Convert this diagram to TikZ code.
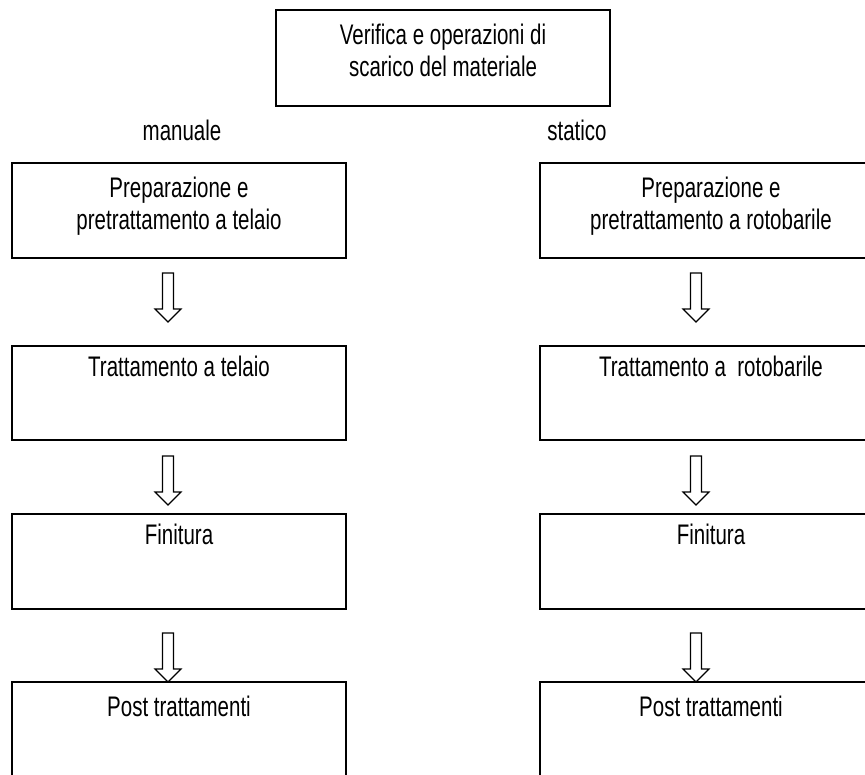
\documentclass[tikz,border=0pt]{standalone}
\usepackage{fontspec}
\setmainfont{Liberation Sans}
\newcommand{\vtxt}[1]{\scalebox{1}[1.38]{\begin{tabular}{@{}c@{}}#1\end{tabular}}}
\begin{document}
\begin{tikzpicture}[x=1pt,y=-1pt,
  box/.style={draw=black,line width=1.4pt,minimum width=334pt,inner sep=0pt,outer sep=0pt},
  txt/.style={font=\fontsize{20.5}{23.5}\selectfont,align=center,inner sep=0pt},
  lbl/.style={font=\fontsize{20.5}{23.5}\selectfont,inner sep=0pt},
  blockarrow/.pic={\draw[line width=1.1pt,line join=miter] (-5.5,0) -- (-5.5,36) -- (-13,36) -- (0,49) -- (13,36) -- (5.5,36) -- (5.5,0) -- cycle;}
]
\useasboundingbox (0,0) rectangle (865,775);
% top
\node[box,minimum height=96pt] (top) at (443,58) {};
\node[txt] (toptxt) at (443,54) {\vtxt{Verifica e operazioni di\\scarico del materiale}};
% labels
\node[txt] (man) at (182,134) {\vtxt{manuale}};
\node[txt] (sta) at (577,134) {\vtxt{statico}};
% left column
\node[box,minimum height=95pt] (l1) at (179,210.5) {};
\node[txt] (l1t) at (179,207) {\vtxt{Preparazione e\\pretrattamento a telaio}};
\node[box,minimum height=94pt] (l2) at (179,393) {};
\node[lbl] (l2t) at (179,370) {\vtxt{Trattamento a telaio}};
\node[box,minimum height=95pt] (l3) at (179,561.5) {};
\node[lbl] (l3t) at (179,538) {\vtxt{Finitura}};
\node[box,minimum height=120pt] (l4) at (179,742) {};
\node[lbl] (l4t) at (179,710) {\vtxt{Post trattamenti}};
% right column
\node[box,minimum height=95pt] (r1) at (707,210.5) {};
\node[txt] (r1t) at (711,207) {\vtxt{Preparazione e\\pretrattamento a rotobarile}};
\node[box,minimum height=94pt] (r2) at (707,393) {};
\node[lbl] (r2t) at (711,370) {\vtxt{Trattamento a~~rotobarile}};
\node[box,minimum height=95pt] (r3) at (707,561.5) {};
\node[lbl] (r3t) at (711,538) {\vtxt{Finitura}};
\node[box,minimum height=120pt] (r4) at (707,742) {};
\node[lbl] (r4t) at (711,710) {\vtxt{Post trattamenti}};
% arrows
\coordinate (al1) at (168,273);
\coordinate (al2) at (168,456);
\coordinate (al3) at (168,633);
\coordinate (ar1) at (696,273);
\coordinate (ar2) at (696,456);
\coordinate (ar3) at (696,633);
\foreach \a in {al1,al2,al3,ar1,ar2,ar3} { \pic at (\a) {blockarrow}; }
\end{tikzpicture}
\end{document}
